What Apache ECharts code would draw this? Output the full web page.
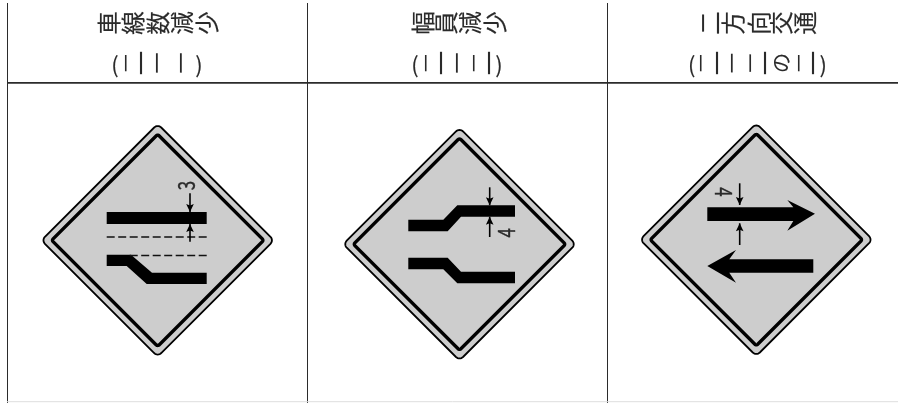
<!DOCTYPE html>
<html><head><meta charset="utf-8">
<style>html,body{margin:0;background:#fff}#c{width:898px;height:403px}</style>
<script src="https://cdn.jsdelivr.net/npm/echarts@6/dist/echarts.min.js"></script>
</head><body><div id="c"></div>
<script>
// table rules, in the chart's 898 x 403 data space
const columnRules = [[[7.5,3],[7.5,403]], [[307.5,3],[307.5,403]], [[607.5,3],[607.5,403]]];
const headerRule = [[[7,82.8],[898,82.8]]];
const footerRule = [[[7,401.7],[898,401.7]]];
// heading glyphs (each is set sideways in the reference)
const headingChars = ['車','線','数','減','少', '幅','員','減','少', '二','方','向','交','通'];
const headingX = [109,133,158,182,207, 423,446,470,495, 710,733,759,781,805];
const subChars = ['一','一','一','一', '一','一','一','一','一', '一','一','一','一','一','の','一','一'];
const subX = [126,141.7,156.7,181, 426.7,441.7,456.7,474.3,489.3, 701.7,717.3,732.7,750.7,765.7,781.7,799.3,813.3];
const subLen = [16,22,19,19, 16,22,19,16,22, 16,22,18,17,22,22,16,22];
const parenChars = ['(',')','(',')','(',')'];
const parenX = [115,199,415,499,691.7,823.3];
// signs
const signCentres = [[157.7,240.3],[459.5,244.2],[756.3,239.7]];
const solidShapes = [
  [[106.7,212],[206.7,212],[206.7,224],[106.7,224]],
  [[106.7,254.7],[131,254.7],[152,272.7],[206.7,272.7],[206.7,284],[146.7,284],[126.7,266],[106.7,266]],
  [[408.3,219.7],[443.3,219.7],[457.3,205.3],[515,205.3],[515,216.7],[461,216.7],[447.7,231.3],[408.3,231.3]],
  [[408.3,257.7],[447.7,257.7],[461,271.7],[515,271.7],[515,283.3],[457.3,283.3],[443.3,269.3],[408.3,269.3]],
  [[707.3,207.3],[793.3,207.3],[787.3,200],[815,213.7],[787.3,230.7],[793.3,221],[707.3,221]],
  [[813.3,259.3],[729.3,259.3],[736,250],[707.3,266],[736,282.7],[729.3,272.7],[813.3,272.7]]
];
const dashedLines = [[[106.7,237],[206.7,237]], [[129.7,255.5],[206.7,255.5]]];
// [x, tail y, tip y]
const arrows = [[190,193.3,212],[190,241.7,224],[489.7,187.3,205.3],[489.7,237,216.7],[739.7,183.3,205],[739.7,245,223.3]];
const gapLabels = ['3','4','4'];
const gapLabelPos = [[186,185.7],[506,232.8],[723.7,192]];
const gapLabelTurn = [1,1,-1];

const idx = a => a.map((_, i) => [i]);
function custom(arr, render, z) {
  return {type:'custom', coordinateSystem:'cartesian2d', silent:true, clip:false, z:z||2, animation:false,
    data: idx(arr), renderItem:(p, api) => render(p.dataIndex, api)};
}
function poly(type, pts, api, style) {
  return {type, shape:{points:pts.map(q => api.coord(q))}, style};
}
function rounded(c, H, r) {
  const pts = [], d = H - r * Math.SQRT2;
  [[0,-1],[1,0],[0,1],[-1,0]].forEach(([ux,uy], k) => {
    const a0 = -Math.PI/2 + k*Math.PI/2;
    for (let s = -4; s <= 4; s++) {
      const a = a0 + s*Math.PI/16;
      pts.push([c[0]+ux*d+r*Math.cos(a), c[1]+uy*d+r*Math.sin(a)]);
    }
  });
  return pts;
}
const INK = '#000', RULE = '#2b2b2b', TEXT = '#2a2a2a', FONT = '"Noto Sans CJK JP"';
function glyph(api, ch, x, y, size, rotation, sx, heavy) {
  const p = api.coord([x,y]);
  return {type:'text', x:p[0], y:p[1], rotation, scaleX:sx||1,
    style:{text:ch, fontSize:size, fontFamily:FONT, fill:TEXT, stroke:TEXT, lineWidth:heavy||0.15, align:'center', verticalAlign:'middle'}};
}
const option = {
  animation:false,
  grid:{left:0,right:0,top:0,bottom:0},
  xAxis:{type:'value',min:0,max:898,show:false},
  yAxis:{type:'value',min:0,max:403,inverse:true,show:false},
  series:[
    custom(columnRules,(i,api)=>poly('polyline',columnRules[i],api,{stroke:RULE,lineWidth:1,fill:null})),
    custom(headerRule,(i,api)=>poly('polyline',headerRule[i],api,{stroke:RULE,lineWidth:1.7,fill:null})),
    custom(footerRule,(i,api)=>poly('polyline',footerRule[i],api,{stroke:'#dedede',lineWidth:1,fill:null})),
    custom(headingChars,(i,api)=>glyph(api,headingChars[i],headingX[i],23,23.5,Math.PI/2)),
    custom(subChars,(i,api)=>glyph(api,subChars[i],subX[i],63,subChars[i]==='の'?20:subLen[i]/0.9,Math.PI/2,1,0.1)),
    custom(parenChars,(i,api)=>glyph(api,parenChars[i],parenX[i],65,22,0)),
    custom(signCentres,(i,api)=>poly('polygon',rounded(signCentres[i],116.3,5),api,{fill:'#cdcdcd',stroke:INK,lineWidth:1.8}),3),
    custom(signCentres,(i,api)=>poly('polygon',rounded(signCentres[i],106,2),api,{fill:'#cdcdcd',stroke:INK,lineWidth:3.4}),4),
    custom(solidShapes,(i,api)=>poly('polygon',solidShapes[i],api,{fill:INK}),5),
    custom(dashedLines,(i,api)=>poly('polyline',dashedLines[i],api,{stroke:'#111',lineWidth:1.7,lineDash:[8,3.5],fill:null}),5),
    custom(arrows,(i,api)=>{
      const [x,y0,y1]=arrows[i], s=Math.sign(y1-y0);
      return {type:'group',children:[
        poly('polyline',[[x,y0],[x,y1]],api,{stroke:'#000',lineWidth:1.6,fill:null}),
        poly('polygon',[[x,y1],[x-3.8,y1-8*s],[x,y1-6.5*s],[x+3.8,y1-8*s]],api,{fill:INK})
      ]};
    },5),
    custom(gapLabels,(i,api)=>glyph(api,gapLabels[i],gapLabelPos[i][0],gapLabelPos[i][1],24,gapLabelTurn[i]*Math.PI/2,0.7,0.4),6)
  ]
};
echarts.init(document.getElementById('c'),null,{renderer:'canvas'}).setOption(option);
</script></body></html>
